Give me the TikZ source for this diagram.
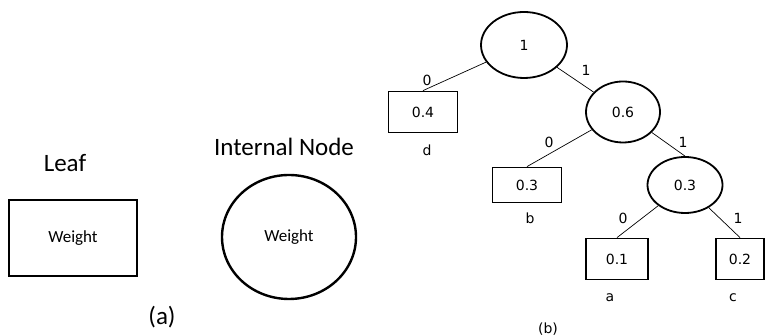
\documentclass[tikz,border=0pt]{standalone}
\usepackage{fontspec}
\setmainfont{Carlito}
\newfontfamily\treefont{DejaVu Sans}
\usepackage{tikz}
\usetikzlibrary{shapes}

\tikzset{
    bigtext/.style={inner sep=0pt, font=\fontsize{12.5}{15}\selectfont},
    keybox/.style={draw, rectangle, line width=1.2pt, inner sep=0pt, font=\fontsize{8.5}{10}\selectfont},
    keyellipse/.style={draw, ellipse, line width=1.2pt, inner sep=0pt, font=\fontsize{8.5}{10}\selectfont},
    leaf/.style={draw, rectangle, line width=0.9pt, inner sep=0pt, font=\treefont\fontsize{7}{8}\selectfont},
    inner/.style={draw, ellipse, line width=0.9pt, inner sep=0pt, font=\treefont\fontsize{7}{8}\selectfont},
    small/.style={inner sep=0pt, font=\treefont\fontsize{7}{8}\selectfont},
    edge/.style={line width=0.35pt}}

\begin{document}
\begin{tikzpicture}[x=0.5pt,y=-0.5pt]
\useasboundingbox (0,0) rectangle (765,335);

% (a) legend
\node[bigtext] (leaftitle) at (65,163) {Leaf};
\node[keybox, minimum width=64pt, minimum height=38pt] (leafkey) at (73,238) {Weight};
\node[bigtext] (innertitle) at (284,147) {Internal Node};
\node[keyellipse, minimum width=67pt, minimum height=62pt] (innerkey) at (289,237) {Weight};
\node[bigtext] (capa) at (162,317) {(a)};

% (b) tree
\node[inner, minimum width=43pt, minimum height=33pt] (root) at (524,45) {1};
\node[inner, minimum width=37pt, minimum height=30.5pt] (n06) at (623,112) {0.6};
\node[inner, minimum width=37.5pt, minimum height=28pt] (n03) at (685,185) {0.3};
\node[leaf, minimum width=34.5pt, minimum height=20.5pt] (d) at (423,112) {0.4};
\node[leaf, minimum width=34.5pt, minimum height=17.5pt] (b) at (527,185) {0.3};
\node[leaf, minimum width=31pt, minimum height=20.5pt] (a) at (617,259) {0.1};
\node[leaf, minimum width=24pt, minimum height=20.5pt] (c) at (740,259) {0.2};

\draw[edge] (root) -- (d.north);
\draw[edge] (root) -- (n06);
\draw[edge] (n06) -- (b.north);
\draw[edge] (n06) -- (n03.north);
\draw[edge] (n03) -- (a.north);
\draw[edge] (n03) -- (c.north);

% branch bits
\node[small] (bit0a) at (427,80) {0};
\node[small] (bit1a) at (586,70) {1};
\node[small] (bit0b) at (549,142) {0};
\node[small] (bit1b) at (683,142) {1};
\node[small] (bit0c) at (623,218) {0};
\node[small] (bit1c) at (738,218) {1};

% symbols
\node[small] (symd) at (427,150) {d};
\node[small] (symb) at (530,218) {b};
\node[small] (syma) at (610,298) {a};
\node[small] (symc) at (733,298) {c};

\node[small] (capb) at (548,329) {(b)};
\end{tikzpicture}
\end{document}
